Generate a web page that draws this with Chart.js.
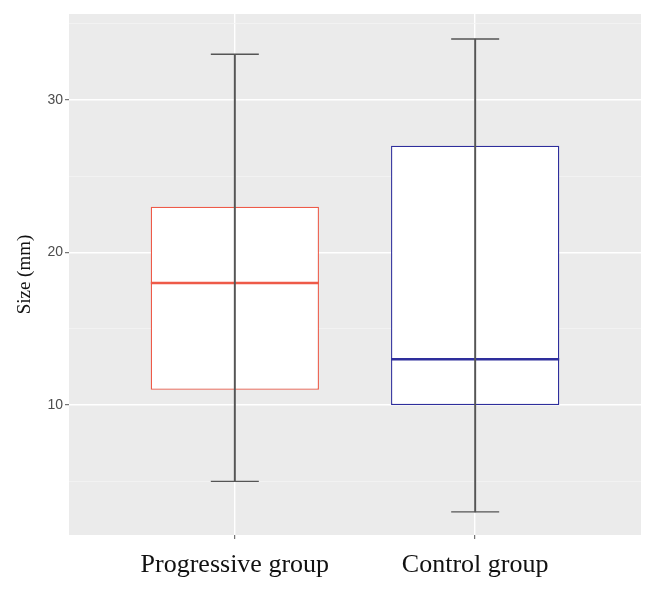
<!DOCTYPE html>
<html>
<head>
<meta charset="utf-8">
<script src="https://cdn.jsdelivr.net/npm/chart.js@4/dist/chart.umd.min.js"></script>
<style>
  html, body { margin: 0; padding: 0; background: #fff; }
  #wrap { width: 657px; height: 594px; }
</style>
</head>
<body>
<div id="wrap"><canvas id="c" width="657" height="594"></canvas></div>
<script>
// ---- data ----
const categories = ['Progressive group', 'Control group'];
const whiskerLow = [5, 3];
const q1 = [11, 10];
const median = [18, 13];
const q3 = [23, 27];
const whiskerHigh = [33, 34];
const boxColors = ['#ee5a48', '#2e2e9c'];
const yTickLabels = [10, 20, 30];
const yGridValues = [5, 10, 15, 20, 25, 30, 35];

const pos = categories.map((_, i) => i + 1);

const boxData = pos.map((x, i) => ({ x: x, y: [q1[i], q3[i]] }));
const whiskerData = pos.map((x, i) => ({ x: x, y: [whiskerLow[i], whiskerHigh[i]] }));
const capData = [];
pos.forEach((x, i) => { capData.push({ x: x, y: whiskerLow[i] }); capData.push({ x: x, y: whiskerHigh[i] }); });
const medianData = pos.map((x, i) => ({ x: x, y: median[i] }));

const bgPlugin = {
  id: 'panelBg',
  beforeDraw(chart) {
    const { ctx, chartArea: a } = chart;
    ctx.save();
    ctx.fillStyle = '#ebebeb';
    ctx.fillRect(a.left, a.top, a.right - a.left, a.bottom - a.top);
    ctx.restore();
  }
};

const isMajor = (ctx) => ctx.tick && yTickLabels.includes(ctx.tick.value);

new Chart(document.getElementById('c'), {
  data: {
    datasets: [
      {
        type: 'bar',
        label: 'box',
        data: boxData,
        backgroundColor: '#ffffff',
        borderColor: boxColors,
        borderWidth: 1.3,
        borderSkipped: false,
        grouped: false,
        categoryPercentage: 1,
        barPercentage: 0.7,
        order: 4
      },
      {
        type: 'scatter',
        label: 'median',
        data: medianData,
        pointStyle: 'line',
        pointRadius: 84,
        pointHoverRadius: 84,
        borderColor: boxColors,
        pointBorderColor: boxColors,
        borderWidth: 2.6,
        pointBorderWidth: 2.6,
        clip: false,
        order: 3
      },
      {
        type: 'bar',
        label: 'whisker',
        data: whiskerData,
        backgroundColor: '#555555',
        borderWidth: 0,
        grouped: false,
        barThickness: 1.3,
        order: 2
      },
      {
        type: 'scatter',
        label: 'caps',
        data: capData,
        pointStyle: 'line',
        pointRadius: 24,
        pointHoverRadius: 24,
        borderColor: '#555555',
        pointBorderColor: '#555555',
        pointBorderWidth: 1.3,
        borderWidth: 1.3,
        clip: false,
        order: 1
      }
    ]
  },
  options: {
    responsive: false,
    animation: false,
    events: [],
    layout: { autoPadding: false, padding: { left: 0, right: 16, top: 14, bottom: 0 } },
    plugins: { legend: { display: false }, tooltip: { enabled: false } },
    scales: {
      x: {
        type: 'linear',
        min: 0.31,
        max: 2.69,
        offset: false,
        border: { display: false },
        grid: {
          offset: false,
          color: '#ffffff',
          lineWidth: 1.4,
          drawTicks: true,
          tickLength: 4,
          tickColor: '#555555',
          tickWidth: 1
        },
        afterBuildTicks(scale) { scale.ticks = pos.map(v => ({ value: v })); },
        ticks: {
          autoSkip: false,
          maxRotation: 0,
          padding: 11,
          color: '#111111',
          font: { family: 'Liberation Serif', size: 26 },
          callback: (v) => categories[Math.round(v) - 1] || ''
        },
        afterFit(scale) { scale.height = 59; scale.paddingLeft = 0; scale.paddingRight = 0; }
      },
      y: {
        type: 'linear',
        min: 1.48,
        max: 35.64,
        border: { display: false },
        grid: {
          color: (ctx) => isMajor(ctx) ? '#ffffff' : '#f4f4f4',
          lineWidth: (ctx) => isMajor(ctx) ? 1.4 : 0.8,
          drawTicks: true,
          tickLength: 4,
          tickColor: (ctx) => isMajor(ctx) ? '#555555' : 'rgba(0,0,0,0)',
          tickWidth: 1
        },
        afterBuildTicks(scale) { scale.ticks = yGridValues.map(v => ({ value: v })); },
        ticks: {
          autoSkip: false,
          padding: 2,
          color: '#4d4d4d',
          font: { family: 'Liberation Sans', size: 14 },
          callback: (v) => yTickLabels.includes(v) ? String(v) : ''
        },
        title: {
          display: true,
          text: 'Size (mm)',
          color: '#111111',
          font: { family: 'Liberation Serif', size: 19 },
          padding: { top: 14, bottom: 0 }
        },
        afterFit(scale) { scale.width = 69; scale.paddingTop = 0; scale.paddingBottom = 0; }
      }
    }
  },
  plugins: [bgPlugin]
});
</script>
</body>
</html>
